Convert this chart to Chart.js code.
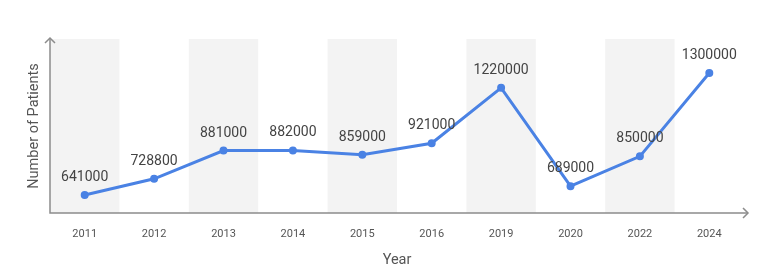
<!DOCTYPE html>
<html>
<head>
<meta charset="utf-8">
<script src="https://cdn.jsdelivr.net/npm/chart.js@4"></script>
<style>
  html, body { margin: 0; padding: 0; background: #fff; }
  #wrap { width: 775px; height: 274px; position: relative; }
</style>
</head>
<body>
<div id="wrap"><canvas id="chart"></canvas></div>
<script>
(function () {
    'use strict';

    /* data */
    var years = ['2011', '2012', '2013', '2014', '2015', '2016', '2019', '2020', '2022', '2024'];
    var patients = [641000, 728800, 881000, 882000, 859000, 921000, 1220000, 689000, 850000, 1300000];
    var yRange = [544000, 1484000];

    var lineColor = '#4a82e4';
    var axisColor = '#8c8c8c';
    var font = 'Roboto, "Noto Sans", sans-serif';

    /* bands behind every other category */
    var bandsPlugin = {
        id: 'bands',
        beforeDatasetsDraw: function (chart) {
            var x = chart.scales.x, area = chart.chartArea, ctx = chart.ctx;
            var step = (x.getPixelForValue(1) - x.getPixelForValue(0));
            ctx.save();
            ctx.fillStyle = '#f3f3f3';
            years.forEach(function (y, i) {
                if (i % 2 !== 0) return;
                var cx = x.getPixelForValue(i);
                ctx.fillRect(cx - step / 2, area.top, step, area.bottom - area.top);
            });
            ctx.restore();
        }
    };

    /* axis lines with arrow heads, value labels */
    var decorPlugin = {
        id: 'decor',
        afterDatasetsDraw: function (chart) {
            var ctx = chart.ctx, area = chart.chartArea;
            ctx.save();
            ctx.strokeStyle = axisColor;
            ctx.lineWidth = 1.5;
            ctx.beginPath();
            ctx.moveTo(area.left, area.top - 1);
            ctx.lineTo(area.left, area.bottom);
            ctx.lineTo(area.right + 4, area.bottom);
            ctx.stroke();
            // arrows
            ctx.beginPath();
            ctx.moveTo(area.left - 5, area.top + 4);
            ctx.lineTo(area.left, area.top - 1);
            ctx.lineTo(area.left + 5, area.top + 4);
            ctx.moveTo(area.right - 1, area.bottom - 5);
            ctx.lineTo(area.right + 4, area.bottom);
            ctx.lineTo(area.right - 1, area.bottom + 5);
            ctx.stroke();

            // data labels
            var meta = chart.getDatasetMeta(0);
            ctx.fillStyle = '#444';
            ctx.font = '14px ' + font;
            ctx.textAlign = 'center';
            ctx.textBaseline = 'middle';
            meta.data.forEach(function (pt, i) {
                ctx.fillText(String(patients[i]), pt.x, pt.y - 17.5);
            });
            ctx.restore();
        }
    };

    new Chart(document.getElementById('chart').getContext('2d'), {
        type: 'line',
        data: {
            labels: years,
            datasets: [{
                data: patients,
                borderColor: lineColor,
                backgroundColor: lineColor,
                borderWidth: 3,
                pointRadius: 2.5,
                pointHoverRadius: 2.5,
                tension: 0,
                fill: false
            }]
        },
        options: {
            responsive: true,
            maintainAspectRatio: false,
            animation: false,
            layout: { padding: { left: 0, right: 31, top: 39, bottom: 0 } },
            plugins: { legend: { display: false }, tooltip: { enabled: false } },
            scales: {
                x: {
                    offset: true,
                    grid: { display: false, drawTicks: false },
                    border: { display: false },
                    ticks: { color: '#555', font: { family: font, size: 11 }, padding: 15, maxRotation: 0 },
                    title: { display: true, text: 'Year', color: '#555', font: { family: font, size: 14.5 }, padding: { top: 0, bottom: 5 } },
                    afterFit: function (s) { s.height = 61; }
                },
                y: {
                    min: yRange[0],
                    max: yRange[1],
                    grid: { display: false, drawTicks: false },
                    border: { display: false },
                    ticks: { display: false },
                    title: { display: true, text: 'Number of Patients', color: '#555', font: { family: font, size: 14.5 }, padding: { top: 26, bottom: 0 } },
                    afterFit: function (s) { s.width = 50; }
                }
            }
        },
        plugins: [bandsPlugin, decorPlugin]
    });
})();
</script>
</body>
</html>
